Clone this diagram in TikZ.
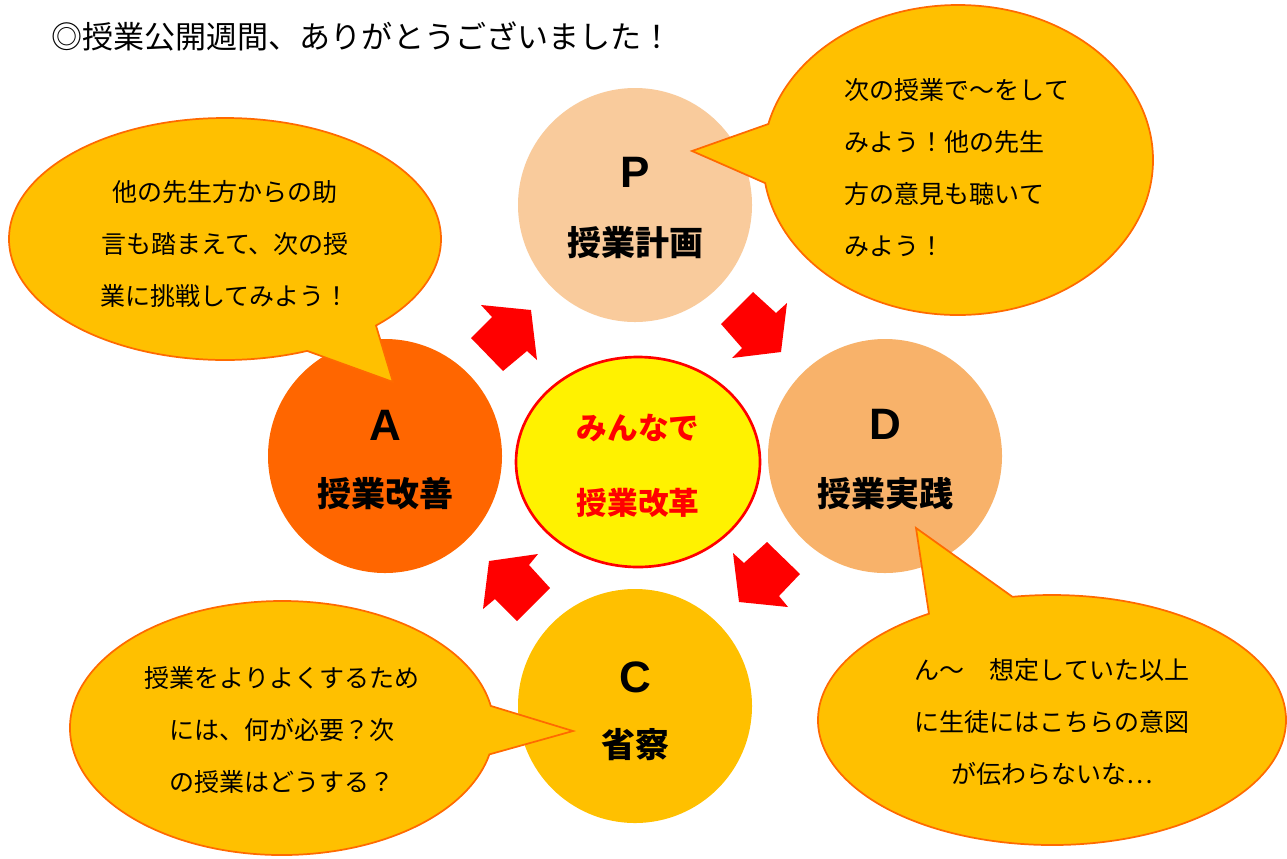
\documentclass[tikz,border=0pt]{standalone}
\usepackage{fontspec}
\setmainfont{Liberation Sans}
\newfontfamily\jp{Noto Sans CJK JP}
\usetikzlibrary{shapes.geometric,shapes.callouts}
\definecolor{pcol}{HTML}{F9CB9C}
\definecolor{dcol}{HTML}{F8B26A}
\definecolor{ccol}{HTML}{FFC000}
\definecolor{acol}{HTML}{FF6600}
\definecolor{bubblefill}{HTML}{FFC000}
\definecolor{bubbleline}{HTML}{FF6A00}
\definecolor{arrowred}{HTML}{FF0000}
\begin{document}
\begin{tikzpicture}[x=0.75pt,y=-0.75pt,
  circ/.style={circle, minimum size=175.5pt, inner sep=0pt},
  letter/.style={font=\fontsize{33}{33}\selectfont\bfseries},
  plabel/.style={font=\jp\bfseries\fontsize{25.5}{25.5}\selectfont},
  clabel/.style={font=\jp\bfseries\fontsize{23}{23}\selectfont, text=red},
  bubble/.style={ellipse callout, draw=bubbleline, line width=1.3pt, fill=bubblefill, inner sep=0pt, callout pointer arc=22},
  btext/.style={font=\jp\fontsize{18.75}{39}\selectfont, align=center, inner sep=0pt},
  blockarrow/.style={fill=arrowred}
]
\useasboundingbox (0,0) rectangle (1287,858);
\fill[white] (0,0) rectangle (1287,858);

% title
\node[anchor=west, inner sep=0pt, font=\jp\fontsize{23.3}{23.3}\selectfont] (title) at (51,36) {◎授業公開週間、ありがとうございました！};

% PDCA circles
\node[circ, fill=pcol] (P) at (635,205) {};
\node[circ, fill=dcol] (D) at (885,456) {};
\node[circ, fill=ccol] (C) at (635,706) {};
\node[circ, fill=acol] (A) at (385,456) {};

\node[letter] (Pl) at (635,172) {P};
\node[plabel] (Pt) at (635,243) {授業計画};
\node[letter] (Dl) at (885,424) {D};
\node[plabel] (Dt) at (885,494) {授業実践};
\node[letter] (Cl) at (635,677) {C};
\node[plabel] (Ct) at (635,745) {省察};
\node[letter] (Al) at (385,425) {A};
\node[plabel] (At) at (385,494) {授業改善};

% center ellipse
\node[ellipse, draw=red, line width=2pt, fill=yellow, minimum width=183pt, minimum height=157.5pt, inner sep=0pt] (M) at (638,462) {};
\node[clabel] (M1) at (638,428) {みんなで};
\node[clabel] (M2) at (638,503) {授業改革};

% block arrows
\fill[blockarrow] (481,305) -- (531,310) -- (537,360) -- (527,351) -- (503,371) -- (471,338) -- (492,317) -- cycle;
\fill[blockarrow] (753,292) -- (776,313) -- (787,303) -- (781,352) -- (732,358) -- (742,348) -- (721,324) -- cycle;
\fill[blockarrow] (767,542) -- (800,574) -- (779,596) -- (788,607) -- (739,602) -- (733,553) -- (744,563) -- cycle;
\fill[blockarrow] (538,554) -- (529,565) -- (550,588) -- (517,621) -- (495,599) -- (483,609) -- (489,561) -- cycle;

% callouts
\node[bubble, minimum width=292.5pt, minimum height=232.5pt, callout absolute pointer={(692,151)}] (TR) at (958,160) {};
\node[bubble, minimum width=324pt, minimum height=181.5pt, callout absolute pointer={(393,382)}] (TL) at (225,239) {};
\node[bubble, minimum width=318pt, minimum height=190.5pt, callout absolute pointer={(573,731)}] (BL) at (282,728) {};
\node[bubble, minimum width=351pt, minimum height=187.5pt, callout absolute pointer={(916,528)}] (BR) at (1052,720) {};

\node[btext, align=left] (TRt) at (957,168) {次の授業で～をして\\みよう！他の先生\\方の意見も聴いて\\みよう！};
\node[btext] (TLt) at (225,244) {他の先生方からの助\\言も踏まえて、次の授\\業に挑戦してみよう！};
\node[btext] (BLt) at (282,730) {授業をよりよくするため\\には、何が必要？次\\の授業はどうする？};
\node[btext] (BRt) at (1052,722) {ん～　想定していた以上\\に生徒にはこちらの意図\\が伝わらないな…};
\end{tikzpicture}
\end{document}
